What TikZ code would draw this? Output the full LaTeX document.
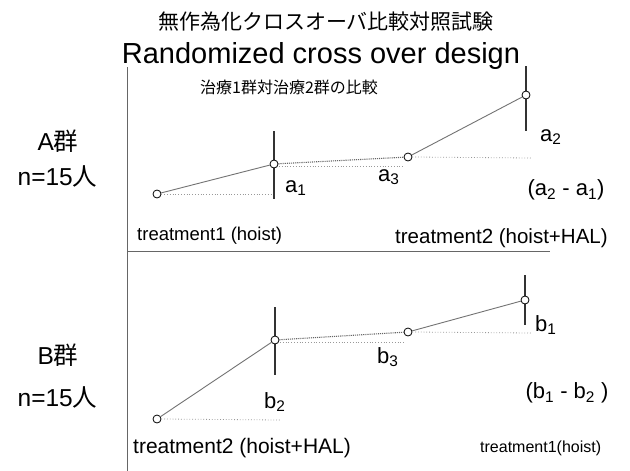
\documentclass[tikz,border=0pt]{standalone}
\usepackage{fontspec}
\setmainfont{Liberation Sans}
\newfontfamily\jp{Noto Sans CJK JP}
\begin{document}
\begin{tikzpicture}[x=1pt,y=-1pt,
  mpt/.style={circle,draw=black,fill=white,inner sep=0pt,minimum size=8pt,line width=0.8pt},
  dline/.style={draw=black!55,line width=0.9pt},
  hdot/.style={draw=black!60,densely dotted,line width=1.1pt},
  ldot/.style={draw=black!40,dotted,line width=0.8pt},
  vtick/.style={draw=black!80,line width=1.4pt},
  axisline/.style={draw=black!60,line width=1pt},
  lab/.style={inner sep=0pt,font=\fontsize{22}{24}\selectfont},
  grp/.style={inner sep=0pt,font=\fontsize{24.5}{26}\selectfont}]
\useasboundingbox[fill=white] (0,0) rectangle (630,471);
% titles
\node[inner sep=0pt,font=\jp\fontsize{21}{23}\selectfont] (t1) at (326,22) {無作為化クロスオーバ比較対照試験};
\node[inner sep=0pt,font=\fontsize{29}{31}\selectfont,anchor=base] (t2) at (321,63) {Randomized cross over design};
\node[inner sep=0pt,font=\jp\fontsize{16}{18}\selectfont] (t3) at (289,87) {治療1群対治療2群の比較};
% axes
\coordinate (axtop) at (127,67);
\coordinate (axbot) at (127,471);
\coordinate (sepl) at (127,251);
\coordinate (sepr) at (550,251);
\draw[axisline] (axtop) -- (axbot);
\draw[axisline] (sepl) -- (sepr);
% group labels
\node[grp] (ga) at (58,141) {A{\jp 群}};
\node[grp] (na) at (57.5,176) {n=15{\jp 人}};
\node[grp] (gb) at (58,355) {B{\jp 群}};
\node[grp] (nb) at (57.5,397) {n=15{\jp 人}};
% ticks group A
\coordinate (ta2) at (274,131); \coordinate (tb2) at (274,199);
\coordinate (ta4) at (526,66);  \coordinate (tb4) at (526,131);
\draw[vtick] (ta2) -- (tb2);
\draw[vtick] (ta4) -- (tb4);
% ticks group B
\coordinate (ua2) at (275,307); \coordinate (ub2) at (275,375);
\coordinate (ua4) at (525,275); \coordinate (ub4) at (525,325);
\draw[vtick] (ua2) -- (ub2);
\draw[vtick] (ua4) -- (ub4);
% points A
\node[mpt] (p1) at (157,194) {};
\node[mpt] (p2) at (274,164) {};
\node[mpt] (p3) at (408,157) {};
\node[mpt] (p4) at (526,95) {};
% points B
\node[mpt] (q1) at (157,419) {};
\node[mpt] (q2) at (275,340) {};
\node[mpt] (q3) at (408,332) {};
\node[mpt] (q4) at (525,300) {};
% lines A
\draw[dline] (p1) -- (p2);
\draw[dline] (p3) -- (p4);
\draw[hdot] (p2) -- (p3);
\coordinate (p1r) at (272,194);
\coordinate (p2l) at (279,166); \coordinate (p2r) at (404,166);
\coordinate (p3r) at (531,158);
\draw[ldot] (p1.east) -- (p1r);
\draw[ldot] (p2l) -- (p2r);
\draw[ldot] (p3.east) -- (p3r);
% lines B
\draw[dline] (q1) -- (q2);
\draw[dline] (q3) -- (q4);
\draw[hdot] (q2) -- (q3);
\coordinate (q1r) at (280,420);
\coordinate (q2l) at (280,342); \coordinate (q2r) at (404,342);
\coordinate (q3r) at (531,333);
\draw[ldot] (q1.east) -- (q1r);
\draw[ldot] (q2l) -- (q2r);
\draw[ldot] (q3.east) -- (q3r);
% labels A
\node[lab,anchor=west] (la1) at (285,188) {a\textsubscript{1}};
\node[lab,anchor=west] (la2) at (540,137) {a\textsubscript{2}};
\node[lab,anchor=west] (la3) at (378,177) {a\textsubscript{3}};
\node[lab] (lda) at (566,190) {(a\textsubscript{2} - a\textsubscript{1})};
\node[inner sep=0pt,anchor=west,font=\fontsize{18.5}{20}\selectfont] (tr1a) at (137,236) {treatment1 (hoist)};
\node[inner sep=0pt,anchor=west,font=\fontsize{20.5}{22}\selectfont] (tr2a) at (395,238) {treatment2 (hoist+HAL)};
% labels B
\node[lab,anchor=west] (lb1) at (535,325) {b\textsubscript{1}};
\node[lab,anchor=west] (lb2) at (264,402) {b\textsubscript{2}};
\node[lab,anchor=west] (lb3) at (377,357) {b\textsubscript{3}};
\node[lab] (ldb) at (567,393) {(b\textsubscript{1} - b\textsubscript{2} )};
\node[inner sep=0pt,anchor=west,font=\fontsize{21}{23}\selectfont] (tr2b) at (133,448) {treatment2 (hoist+HAL)};
\node[inner sep=0pt,anchor=west,font=\fontsize{16}{18}\selectfont] (tr1b) at (480,448) {treatment1(hoist)};
\end{tikzpicture}
\end{document}
